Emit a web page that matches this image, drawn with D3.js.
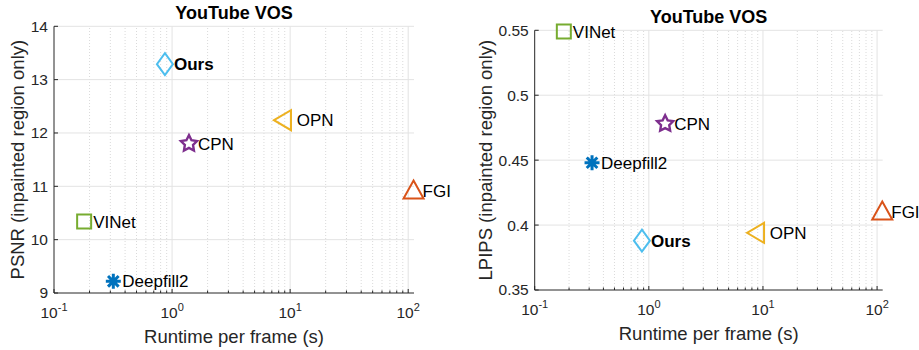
<!DOCTYPE html>
<html>
<head>
    <title>YouTube VOS runtime</title>
    <script src="https://d3js.org/d3.v7.min.js"></script>
    <style>
        * { margin: 0; padding: 0; }
        body { background: #fff; }
        svg text { font-family: "Liberation Sans", Arial, sans-serif; fill: #262626; }
    </style>
</head>
<body>
<div id="chart"></div>
<script>
    // data
    const methods = ["Ours", "OPN", "CPN", "FGI", "VINet", "Deepfill2"];
    const labels = ["Ours", " OPN", "CPN", "FGI", "VINet", "Deepfill2"];
    const runtime = [0.87, 8.7, 1.39, 111, 0.18, 0.318];
    const psnr = [13.29, 12.24, 11.80, 10.92, 10.34, 9.22];
    const lpips = [0.388, 0.394, 0.478, 0.4105, 0.549, 0.448];
    const colors = ["#4DBEEE", "#EDB120", "#7E2F8E", "#D95319", "#77AC30", "#0072BD"];
    const shapes = ["diamond", "triangleLeft", "star", "triangleUp", "square", "asterisk"];
    const xTicks = [0.1, 1, 10, 100];
    const psnrTicks = [9, 10, 11, 12, 13, 14];
    const lpipsTicks = [0.35, 0.4, 0.45, 0.5, 0.55];

    const W = 919, H = 350;
    const svg = d3.select("#chart").append("svg")
        .attr("width", W).attr("height", H);

    function markerPath(shape) {
        const p = d3.path();
        if (shape === "diamond") {
            p.moveTo(0, -11); p.lineTo(8, 0); p.lineTo(0, 11); p.lineTo(-8, 0); p.closePath();
        } else if (shape === "triangleLeft") {
            p.moveTo(-9, 0); p.lineTo(8, -10); p.lineTo(8, 10); p.closePath();
        } else if (shape === "triangleUp") {
            p.moveTo(0, -10); p.lineTo(10, 8); p.lineTo(-10, 8); p.closePath();
        } else if (shape === "square") {
            p.rect(-7, -7, 14, 14);
        } else if (shape === "star") {
            for (let i = 0; i < 10; i++) {
                const r = i % 2 === 0 ? 8.5 : 4.3;
                const a = -Math.PI / 2 + i * Math.PI / 5;
                if (i === 0) p.moveTo(r * Math.cos(a), r * Math.sin(a));
                else p.lineTo(r * Math.cos(a), r * Math.sin(a));
            }
            p.closePath();
        } else if (shape === "asterisk") {
            for (let i = 0; i < 4; i++) {
                const a = i * Math.PI / 4;
                p.moveTo(-7.5 * Math.cos(a), -7.5 * Math.sin(a));
                p.lineTo(7.5 * Math.cos(a), 7.5 * Math.sin(a));
            }
        }
        return p.toString();
    }

    function drawPanel(cfg) {
        const x = d3.scaleLog().domain([0.1, 112]).range([cfg.left, cfg.right]);
        const y = d3.scaleLinear().domain(cfg.yDomain).range([cfg.bottom, cfg.top]);
        const g = svg.append("g");

        // minor x grid (dotted)
        const minor = [];
        for (let d = 0.1; d < 100; d *= 10) {
            for (let k = 2; k <= 9; k++) minor.push(d * k);
        }
        g.selectAll(".minor").data(minor).join("line")
            .attr("x1", d => x(d)).attr("x2", d => x(d))
            .attr("y1", cfg.bottom).attr("y2", cfg.top)
            .attr("stroke", "#dadada").attr("stroke-width", 1)
            .attr("stroke-dasharray", "1,2");

        // major grid
        g.selectAll(".vgrid").data(xTicks.slice(1)).join("line")
            .attr("x1", d => x(d)).attr("x2", d => x(d))
            .attr("y1", cfg.bottom).attr("y2", cfg.top)
            .attr("stroke", "#e3e3e3").attr("stroke-width", 1);
        g.selectAll(".hgrid").data(cfg.yTicks.slice(1)).join("line")
            .attr("x1", cfg.left).attr("x2", cfg.right)
            .attr("y1", d => y(d)).attr("y2", d => y(d))
            .attr("stroke", "#e3e3e3").attr("stroke-width", 1);

        // axes lines
        g.append("line").attr("x1", cfg.left).attr("x2", cfg.left)
            .attr("y1", cfg.top).attr("y2", cfg.bottom)
            .attr("stroke", "#262626").attr("stroke-width", 1);
        g.append("line").attr("x1", cfg.left).attr("x2", cfg.right)
            .attr("y1", cfg.bottom).attr("y2", cfg.bottom)
            .attr("stroke", "#262626").attr("stroke-width", 1);

        // ticks (inward)
        g.selectAll(".ytick").data(cfg.yTicks).join("line")
            .attr("x1", cfg.left).attr("x2", cfg.left + 4)
            .attr("y1", d => y(d)).attr("y2", d => y(d))
            .attr("stroke", "#262626");
        g.selectAll(".xtick").data(xTicks).join("line")
            .attr("x1", d => x(d)).attr("x2", d => x(d))
            .attr("y1", cfg.bottom).attr("y2", cfg.bottom - 4)
            .attr("stroke", "#262626");
        g.selectAll(".xminortick").data(minor).join("line")
            .attr("x1", d => x(d)).attr("x2", d => x(d))
            .attr("y1", cfg.bottom).attr("y2", cfg.bottom - 2.5)
            .attr("stroke", "#262626");

        // tick labels
        g.selectAll(".ylab").data(cfg.yTicks).join("text")
            .attr("x", cfg.left - 6).attr("y", d => y(d))
            .attr("dy", "0.35em").attr("text-anchor", "end")
            .style("font-size", "15.5px")
            .text(cfg.yFormat);
        const xl = g.selectAll(".xlab").data(xTicks).join("text")
            .attr("x", d => x(d)).attr("y", cfg.bottom + 25)
            .attr("text-anchor", "middle")
            .style("font-size", "15.5px");
        xl.append("tspan").text("10");
        xl.append("tspan").attr("dy", -7).style("font-size", "11px")
            .text(d => String(Math.round(Math.log10(d))));

        // axis labels and title
        g.append("text").attr("x", (cfg.left + cfg.right) / 2).attr("y", cfg.bottom + 50)
            .attr("text-anchor", "middle").style("font-size", "18.5px")
            .text("Runtime per frame (s)");
        g.append("text")
            .attr("transform", `translate(${cfg.yLabelX},${(cfg.top + cfg.bottom) / 2}) rotate(-90)`)
            .attr("text-anchor", "middle").style("font-size", "18.5px")
            .text(cfg.yLabel);
        g.append("text").attr("x", (cfg.left + cfg.right) / 2).attr("y", cfg.top - 7)
            .attr("text-anchor", "middle").style("font-size", "18px")
            .style("font-weight", "bold").style("fill", "#000")
            .text("YouTube VOS");

        // markers and labels
        const idx = d3.range(methods.length);
        g.selectAll(".mk").data(idx).join("path")
            .attr("transform", i => `translate(${x(runtime[i])},${y(cfg.values[i])})`)
            .attr("d", i => markerPath(shapes[i]))
            .attr("fill", "none").attr("stroke", i => colors[i])
            .attr("stroke-width", i => shapes[i] === "asterisk" ? 3 : (shapes[i] === "star" ? 2.4 : 2))
            .attr("stroke-linejoin", "miter");
        g.selectAll(".lb").data(idx).join("text")
            .attr("x", i => x(runtime[i]) + 9).attr("y", i => y(cfg.values[i]))
            .attr("dy", "0.36em")
            .attr("xml:space", "preserve").style("white-space", "pre")
            .style("font-size", "17px")
            .style("font-weight", i => methods[i] === "Ours" ? "bold" : "normal")
            .style("fill", "#000")
            .text(i => labels[i]);
    }

    drawPanel({
        left: 54, right: 414, top: 26.3, bottom: 293,
        yDomain: [9, 14], yTicks: psnrTicks, values: psnr,
        yFormat: d => d, yLabel: "PSNR (inpainted region only)", yLabelX: 24
    });
    drawPanel({
        left: 534.7, right: 882.7, top: 30.3, bottom: 290,
        yDomain: [0.35, 0.55], yTicks: lpipsTicks, values: lpips,
        yFormat: d => String(+d.toFixed(2)), yLabel: "LPIPS (inpainted region only)", yLabelX: 492
    });
</script>
</body>
</html>
